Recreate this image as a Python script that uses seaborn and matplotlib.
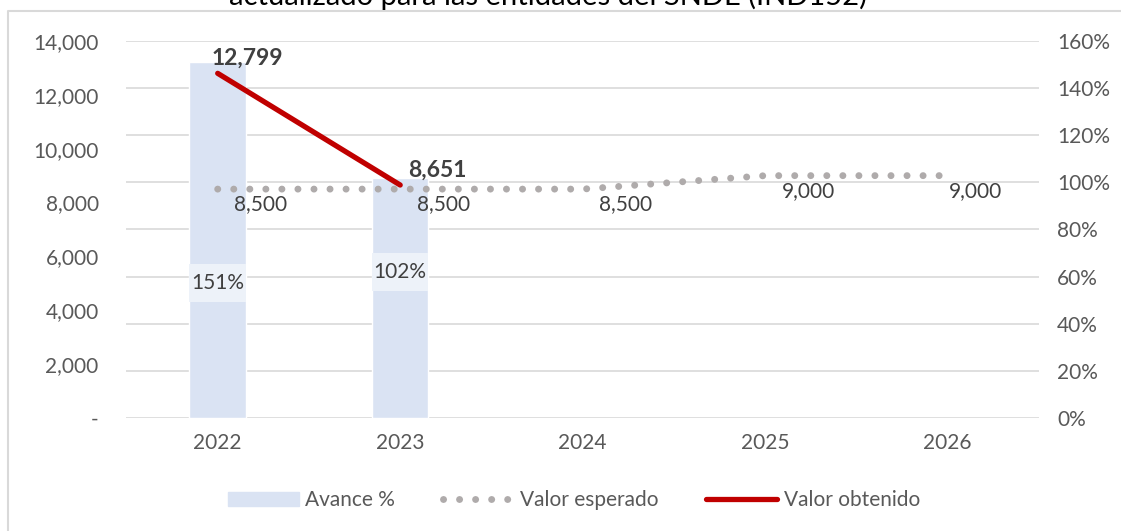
import numpy as np
import pandas as pd
import matplotlib
matplotlib.use("Agg")
import matplotlib.pyplot as plt
from matplotlib.lines import Line2D
from matplotlib.patches import Patch, Rectangle
from matplotlib.ticker import FuncFormatter
import seaborn as sns

# Data
years = ["2022", "2023", "2024", "2025", "2026"]
avance = [1.51, 1.02, np.nan, np.nan, np.nan]
valor_esperado = [8500, 8500, 8500, 9000, 9000]
valor_obtenido = [12799, 8651, np.nan, np.nan, np.nan]
avance_labels = ["151%", "102%"]
title = "actualizado para las entidades del SNDE (IND152)"

bar_color = "#DAE3F3"
red = "#C00000"
dot_grey = "#AFABAB"
text_grey = "#595959"
dark = "#404040"
dots = (0, (0.01, 2.3))

sns.set_theme(style="white")
plt.rcParams["font.family"] = ["Lato", "DejaVu Sans"]

df = pd.DataFrame({"year": years, "pos": range(len(years)),
                   "avance": avance, "esperado": valor_esperado,
                   "obtenido": valor_obtenido})

fig = plt.figure(figsize=(11.21, 5.31), dpi=100)
ax_bar = fig.add_axes([0.1128, 0.2128, 0.8140, 0.7100])
ax = ax_bar.twinx()
# values axis on the left, percent axis on the right
ax.yaxis.tick_left()
ax_bar.yaxis.tick_right()
ax.set_zorder(ax_bar.get_zorder() + 1)
ax.patch.set_visible(False)

# bars (percent axis)
bar_w = 0.31
sns.barplot(data=df, x="pos", y="avance", color=bar_color, width=bar_w,
            saturation=1, ax=ax_bar, order=range(len(years)))
ax_bar.set_ylim(0, 1.6)
ax_bar.set_yticks(np.arange(0, 1.61, 0.2))
ax_bar.yaxis.set_major_formatter(FuncFormatter(lambda v, p: f"{v*100:.0f}%"))
ax_bar.grid(axis="y", color="#D9D9D9", linewidth=1.2)
ax_bar.set_axisbelow(True)

# percent labels sit in a light box as wide as the bar
box_h = 0.16
for i, lab, ly in zip(range(2), avance_labels, [0.573, 0.62]):
    ax_bar.add_patch(Rectangle((i - bar_w / 2, ly - box_h / 2), bar_w, box_h,
                               fc="#EDF2F9", ec="none", zorder=3))
    ax_bar.text(i, ly, lab, ha="center", va="center", fontsize=15, color=dark, zorder=4)

# lines (values axis)
sns.lineplot(data=df, x="pos", y="esperado", ax=ax, color=dot_grey,
             linewidth=5, dashes=False)
ax.lines[-1].set_linestyle(dots)
ax.lines[-1].set_dash_capstyle("round")
sns.lineplot(data=df.dropna(subset=["obtenido"]), x="pos", y="obtenido", ax=ax,
             color=red, linewidth=3.8, solid_capstyle="round")

ax.set_ylim(0, 14000)
ax.set_yticks(np.arange(0, 14001, 2000))
ax.yaxis.set_major_formatter(FuncFormatter(lambda v, p: "-" if v == 0 else f"{v:,.0f}"))
ax.set_xlim(-0.5, 4.5)
ax_bar.set_xlim(-0.5, 4.5)
ax_bar.set_xticks(range(len(years)))
ax_bar.set_xticklabels(years)

for a in (ax, ax_bar):
    a.set_xlabel("")
    a.set_ylabel("")
    for s in a.spines.values():
        s.set_visible(False)
    a.tick_params(length=0, labelsize=15, labelcolor=text_grey)
ax.tick_params(axis="y", pad=20)
ax_bar.tick_params(axis="y", pad=13)
ax_bar.tick_params(axis="x", pad=11)
ax.tick_params(axis="x", labelbottom=False)

# data labels
for i, v in enumerate(valor_obtenido):
    if not np.isnan(v):
        ax.annotate(f"{v:,.0f}", (i, v), xytext=(21 + 6 * i, 11), textcoords="offset points",
                    ha="center", va="center", fontsize=16.5, fontweight="bold", color=dark)
for i, v in enumerate(valor_esperado):
    dx = 12 if i < 4 else 1
    ax.annotate(f"{v:,.0f}", (i, v), xytext=(dx, -11), textcoords="offset points",
                ha="left", va="center", fontsize=15, color=dark)

# legend
handles = [Patch(color=bar_color),
           Line2D([], [], color=dot_grey, linewidth=5, linestyle=dots,
                  dash_capstyle="round"),
           Line2D([], [], color=red, linewidth=3.8, solid_capstyle="round")]
fig.legend(handles, ["Avance %", "Valor esperado", "Valor obtenido"], loc="center",
           bbox_to_anchor=(0.512, 0.058), ncol=3, frameon=False, fontsize=15,
           handlelength=3.4, handletextpad=0.3, columnspacing=2.3, labelcolor=text_grey)

# clipped title and chart border
fig.text(0.489, 1 - 5 / 531, title, ha="center", va="baseline", fontsize=21, color="black")
fig.add_artist(Line2D([8 / 1121, 8 / 1121, 1.0], [0, 1 - 11 / 531, 1 - 11 / 531],
                      transform=fig.transFigure, color="#D9D9D9", linewidth=1.5))

fig.savefig("out.png", dpi=100)
